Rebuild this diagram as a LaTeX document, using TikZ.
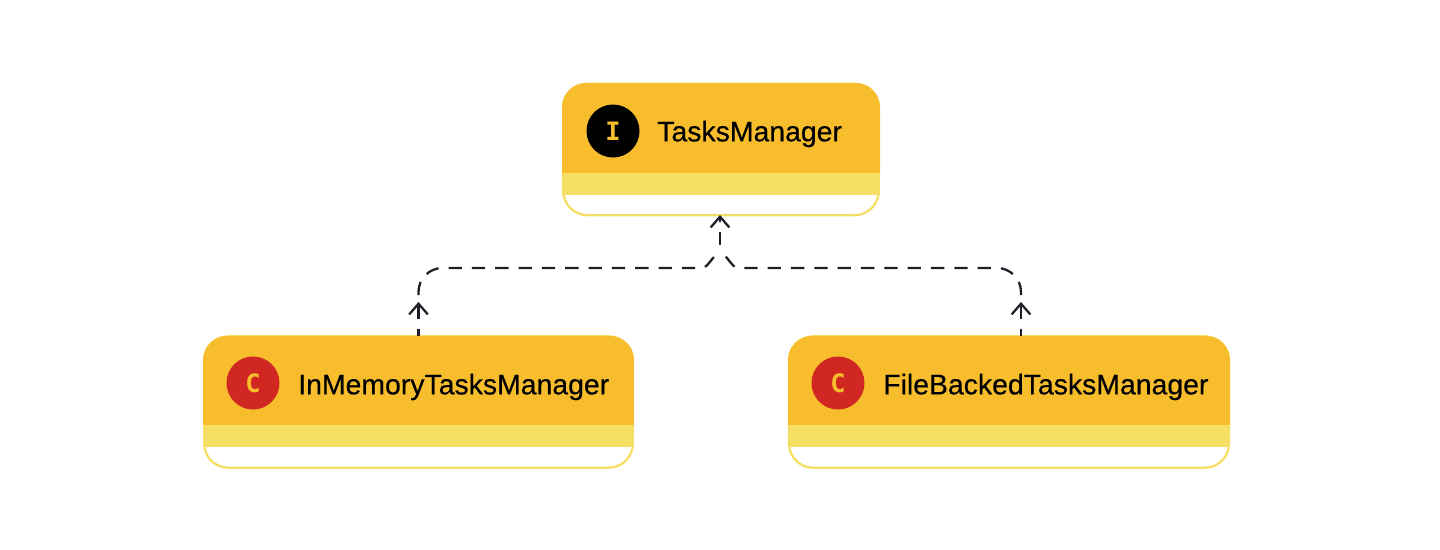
\documentclass[tikz,border=0pt]{standalone}
\usepackage{fontspec}
\setmainfont{Liberation Sans}
\newfontfamily\namefont[FakeBold=0.35]{Liberation Sans}
\newfontfamily\iconfont{DejaVu Sans Mono}
\usetikzlibrary{arrows.meta}
\definecolor{headYellow}{HTML}{F7BD2C}
\definecolor{bandYellow}{HTML}{F6DE65}
\definecolor{classRed}{HTML}{D12722}
\definecolor{linkGrey}{HTML}{1E1E28}
\tikzset{
  classbox/.style={draw=bandYellow,line width=1.7pt,fill=white,rounded corners=18pt,inner sep=0pt},
  headfill/.style={fill=headYellow},
  bandfill/.style={fill=bandYellow},
  classname/.style={anchor=west,inner sep=0pt,text=black,font=\namefont\fontsize{21.3pt}{25pt}\selectfont},
  iconbase/.style={circle,minimum size=39.75pt,inner sep=0pt,text=headYellow,font=\iconfont\bfseries\fontsize{19pt}{22pt}\selectfont},
  link/.style={draw=linkGrey,line width=1.7pt,dash pattern=on 10pt off 7.5pt},
  tip/.style={-{Straight Barb[length=8pt,width=14pt,line width=1.7pt]}},
}

\begin{document}
\begin{tikzpicture}[x=0.75pt,y=0.75pt,yscale=-1,xscale=1]
\useasboundingbox (0,0) rectangle (1440,550);

%TasksManager
\node [classbox,minimum width=236.5pt,minimum height=98.5pt] (tasksmgr) at (721,149.5) {};
\fill [headfill] (562,173) -- (562,107) arc (180:270:24) -- (856,83) arc (270:360:24) -- (880,173) -- cycle;
\fill [bandfill] (562,173) rectangle (880,195);
\node [iconbase,fill=black] (tasksicon) at (613,131) {I};
\node [classname] (tasksname) at (657,134) {TasksManager};

%InMemoryTasksManager
\node [classbox,minimum width=321.5pt,minimum height=98.5pt] (inmem) at (418.5,402) {};
\fill [headfill] (203,425) -- (203,360) arc (180:270:24) -- (610,336) arc (270:360:24) -- (634,425) -- cycle;
\fill [bandfill] (203,425) rectangle (634,447);
\node [iconbase,fill=classRed] (inmemicon) at (253,383) {C};
\node [classname] (inmemname) at (298,387) {InMemoryTasksManager};

%FileBackedTasksManager
\node [classbox,minimum width=330pt,minimum height=98.5pt] (filebacked) at (1009,402) {};
\fill [headfill] (788,425) -- (788,360) arc (180:270:24) -- (1206,336) arc (270:360:24) -- (1230,425) -- cycle;
\fill [bandfill] (788,425) rectangle (1230,447);
\node [iconbase,fill=classRed] (filebackedicon) at (838,383) {C};
\node [classname] (filebackedname) at (883,387) {FileBackedTasksManager};

%Connectors
\coordinate (inmemtop) at (418.5,336);
\coordinate (inmemtip) at (418.5,302);
\coordinate (filetop) at (1021,336);
\coordinate (filetip) at (1021,302);
\coordinate (fork) at (720,250);
\coordinate (managertip) at (720,215);

\draw [link,tip,dash phase=4.75pt] (inmemtop) -- (inmemtip);
\draw [link,tip,dash phase=4.75pt] (filetop) -- (filetip);
\draw [link,tip,dash phase=13.75pt] (fork) -- (managertip);
\draw [link,dash phase=12.25pt] (inmemtip) -- (418.5,292) arc (180:270:24) -- (702,268) .. controls (707,268) and (712,258) .. (fork);
\draw [link,dash phase=12.25pt] (filetip) -- (1021,292) arc (0:-90:24) -- (738,268) .. controls (733,268) and (728,258) .. (fork);

\end{tikzpicture}
\end{document}
